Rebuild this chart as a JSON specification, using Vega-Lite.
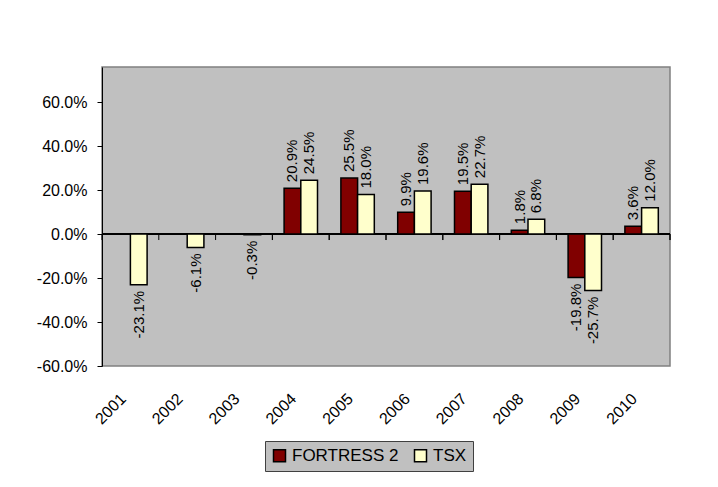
{
  "$schema": "https://vega.github.io/schema/vega-lite/v6.json",
  "width": 568,
  "height": 299,
  "autosize": "none",
  "padding": {"left": 102, "top": 67, "right": 48, "bottom": 121},
  "background": "white",
  "config": {
    "view": {"fill": "#C0C0C0", "stroke": "#808080", "strokeWidth": 1.5},
    "font": "Liberation Sans",
    "axis": {"labelFont": "Liberation Sans", "labelColor": "black", "grid": false},
    "legend": {"labelFont": "Liberation Sans"}
  },
  "data": {
    "values": [
      {"year": "2001", "series": "TSX", "value": -0.231},
      {"year": "2002", "series": "TSX", "value": -0.061},
      {"year": "2003", "series": "TSX", "value": -0.003},
      {"year": "2004", "series": "FORTRESS 2", "value": 0.209},
      {"year": "2004", "series": "TSX", "value": 0.245},
      {"year": "2005", "series": "FORTRESS 2", "value": 0.255},
      {"year": "2005", "series": "TSX", "value": 0.180},
      {"year": "2006", "series": "FORTRESS 2", "value": 0.099},
      {"year": "2006", "series": "TSX", "value": 0.196},
      {"year": "2007", "series": "FORTRESS 2", "value": 0.195},
      {"year": "2007", "series": "TSX", "value": 0.227},
      {"year": "2008", "series": "FORTRESS 2", "value": 0.018},
      {"year": "2008", "series": "TSX", "value": 0.068},
      {"year": "2009", "series": "FORTRESS 2", "value": -0.198},
      {"year": "2009", "series": "TSX", "value": -0.257},
      {"year": "2010", "series": "FORTRESS 2", "value": 0.036},
      {"year": "2010", "series": "TSX", "value": 0.120}
    ]
  },
  "transform": [
    {"calculate": "replace(format(datum.value, '.1%'), '\u2212', '-')", "as": "label"}
  ],
  "encoding": {
    "x": {
      "field": "year",
      "type": "nominal",
      "sort": ["2001","2002","2003","2004","2005","2006","2007","2008","2009","2010"],
      "scale": {"domain": ["2001","2002","2003","2004","2005","2006","2007","2008","2009","2010"], "paddingInner": 0, "paddingOuter": 0},
      "title": null,
      "axis": {
        "domain": false,
        "ticks": false,
        "labelAngle": -45,
        "labelAlign": "right",
        "labelBaseline": "middle",
        "labelPadding": 30,
        "labelOffset": -7,
        "labelFontSize": 16
      }
    }
  },
  "layer": [
    {
      "mark": {"type": "rule", "color": "black", "strokeWidth": 1},
      "encoding": {
        "x": null,
        "y": {"datum": 0, "type": "quantitative", "scale": {"domain": [-0.6, 0.76], "nice": false, "zero": false}}
      }
    },
    {
      "mark": {"type": "rule", "color": "black", "strokeWidth": 1},
      "encoding": {
        "x": {"field": "year", "type": "nominal", "bandPosition": 0, "title": null},
        "y": {"datum": 0, "type": "quantitative"},
        "y2": {"datum": -0.027}
      }
    },
    {
      "transform": [{"filter": "datum.year == '2010'"}],
      "mark": {"type": "rule", "color": "black", "strokeWidth": 1},
      "encoding": {
        "x": {"field": "year", "type": "nominal", "bandPosition": 1, "title": null},
        "y": {"datum": 0, "type": "quantitative"},
        "y2": {"datum": -0.027}
      }
    },
    {
      "mark": {"type": "bar", "stroke": "black", "strokeWidth": 1.5},
      "encoding": {
        "xOffset": {"field": "series", "type": "nominal", "scale": {"domain": ["FORTRESS 2", "TSX"], "paddingInner": 0, "paddingOuter": 0.7}},
        "y": {
          "field": "value",
          "type": "quantitative",
          "title": null,
          "axis": {
            "values": [-0.6, -0.4, -0.2, 0, 0.2, 0.4, 0.6],
            "format": ".1%",
            "labelExpr": "replace(datum.label, '\u2212', '-')",
            "labelFontSize": 16,
            "labelPadding": 10,
            "tickSize": 5,
            "tickColor": "black",
            "domainColor": "black",
            "domainWidth": 1
          }
        },
        "y2": {"datum": 0},
        "fill": {
          "field": "series",
          "type": "nominal",
          "scale": {"domain": ["FORTRESS 2", "TSX"], "range": ["#800000", "#FFFFCC"]},
          "legend": {
            "title": null,
            "orient": "none",
            "direction": "horizontal",
            "legendX": 163,
            "legendY": 374,
            "fillColor": "#C0C0C0",
            "strokeColor": "#404040",
            "padding": 6,
            "symbolType": "square",
            "symbolSize": 144,
            "symbolStrokeColor": "black",
            "symbolStrokeWidth": 1.5,
            "symbolOpacity": 1,
            "labelFontSize": 17,
            "labelColor": "black",
            "labelOffset": 4,
            "columnPadding": 12
          }
        }
      }
    },
    {
      "transform": [{"filter": "datum.value >= 0"}],
      "mark": {"type": "text", "angle": -90, "align": "left", "baseline": "middle", "dx": 6, "fontSize": 15, "color": "black"},
      "encoding": {
        "xOffset": {"field": "series", "type": "nominal"},
        "y": {"field": "value", "type": "quantitative"},
        "text": {"field": "label", "type": "nominal"}
      }
    },
    {
      "transform": [{"filter": "datum.value < 0"}],
      "mark": {"type": "text", "angle": -90, "align": "right", "baseline": "middle", "dx": -6, "fontSize": 15, "color": "black"},
      "encoding": {
        "xOffset": {"field": "series", "type": "nominal"},
        "y": {"field": "value", "type": "quantitative"},
        "text": {"field": "label", "type": "nominal"}
      }
    }
  ]
}
